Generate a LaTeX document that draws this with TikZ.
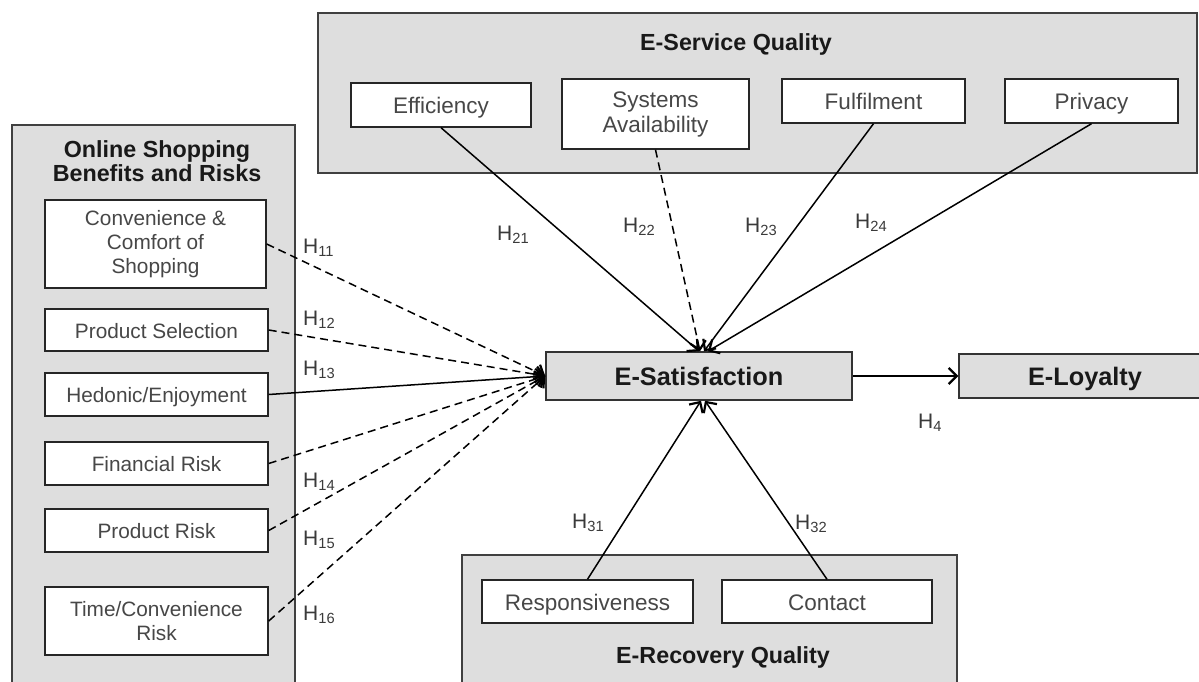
\documentclass[tikz,border=0pt]{standalone}
\usepackage{fontspec}
\setmainfont{Liberation Sans}
\usetikzlibrary{arrows.meta}
\definecolor{panelgray}{HTML}{DEDEDE}
\definecolor{boxtext}{HTML}{474747}
\definecolor{labtext}{HTML}{3A3A3A}
\newcommand{\hyp}[1]{H\textsubscript{#1}}
\begin{document}
\begin{tikzpicture}[x=1pt,y=-1pt,
  panel/.style={draw=black!75, line width=1.6pt, fill=panelgray, inner sep=0pt},
  inbox/.style={draw=black!85, line width=1.4pt, fill=white, align=center, text=boxtext, inner sep=0pt},
  topfont/.style={font=\fontsize{22.5}{25}\selectfont},
  leftfont/.style={font=\fontsize{20.8}{24}\selectfont},
  oneT/.style={text height=17pt, text depth=0pt},
  oneL/.style={text height=16pt, text depth=0pt},
  oneC/.style={text height=19pt, text depth=0pt},
  title/.style={font=\bfseries\fontsize{23.3}{24.5}\selectfont, text=black!90, align=center, inner sep=0pt},
  core/.style={draw=black!80, line width=1.5pt, fill=panelgray, inner sep=0pt, font=\bfseries\fontsize{25.3}{28}\selectfont, text=black!90},
  hlab/.style={font=\fontsize{21}{24}\selectfont, text=labtext, anchor=base west, inner sep=0pt},
  arr/.style={-{Straight Barb[length=8pt,width=16pt,line width=2.2pt]}, line width=1.5pt, black},
  dsh/.style={dash pattern=on 8pt off 5pt}
]
\useasboundingbox (0,0) rectangle (1199,682);
\clip (0,0) rectangle (1199,682);

% panels
\node[panel, minimum width=879pt, minimum height=160pt] (esq) at (757.5,93) {};
\node[title] (esqt) at (736,44) {E-Service Quality};
\node[panel, minimum width=283pt, minimum height=600pt] (osb) at (153.5,425) {};
\node[title] (osbt) at (157,161) {Online Shopping\\Benefits and Risks};
\node[panel, minimum width=495pt, minimum height=160pt] (erq) at (709.5,635) {};
\node[title] (erqt) at (723,657) {E-Recovery Quality};

% E-Service items
\node[inbox, topfont, oneT, minimum width=180pt, minimum height=44pt] (eff) at (441,105) {Efficiency};
\node[inbox, topfont, minimum width=187pt, minimum height=70pt] (sys) at (655.5,114) {Systems\\Availability};
\node[inbox, topfont, oneT, minimum width=183pt, minimum height=44pt] (ful) at (873.5,101) {Fulfilment};
\node[inbox, topfont, oneT, minimum width=173pt, minimum height=44pt] (priv) at (1091.5,101) {Privacy};

% left items
\node[inbox, leftfont, minimum width=221pt, minimum height=88pt] (conv) at (155.5,244) {Convenience \&\\Comfort of\\Shopping};
\node[inbox, leftfont, oneL, minimum width=223pt, minimum height=42pt] (psel) at (156.5,330) {Product Selection};
\node[inbox, leftfont, oneL, minimum width=223pt, minimum height=43pt] (hed) at (156.5,394.5) {Hedonic/Enjoyment};
\node[inbox, leftfont, oneL, minimum width=223pt, minimum height=43pt] (fin) at (156.5,463.5) {Financial Risk};
\node[inbox, leftfont, oneL, minimum width=223pt, minimum height=43pt] (prisk) at (156.5,530.5) {Product Risk};
\node[inbox, leftfont, minimum width=223pt, minimum height=68pt] (tcr) at (156.5,621) {Time/Convenience\\Risk};

% recovery items
\node[inbox, topfont, oneT, minimum width=211pt, minimum height=43pt] (resp) at (587.5,601.5) {Responsiveness};
\node[inbox, topfont, oneT, minimum width=210pt, minimum height=43pt] (cont) at (827,601.5) {Contact};

% core
\node[core, oneC, minimum width=306pt, minimum height=48pt] (esat) at (699,376) {E-Satisfaction};
\node[core, oneC, minimum width=252pt, minimum height=44pt, text width=252pt, align=center] (eloy) at (1085,376) {E-Loyalty};

% connectors from left
\draw[arr, dsh] (conv.east) -- (esat.west);
\draw[arr, dsh] (psel.east) -- (esat.west);
\draw[arr] (hed.east) -- (esat.west);
\draw[arr, dsh] (fin.east) -- (esat.west);
\draw[arr, dsh] (prisk.east) -- (esat.west);
\draw[arr, dsh] (tcr.east) -- (esat.west);

% connectors from top
\draw[arr] (eff.south) -- ([xshift=0pt]esat.north);
\draw[arr, dsh] (sys.south) -- ([xshift=1pt]esat.north);
\draw[arr] (ful.south) -- ([xshift=5pt]esat.north);
\draw[arr] (priv.south) -- ([xshift=9pt]esat.north);

% connectors from bottom
\draw[arr] (resp.north) -- ([xshift=2pt]esat.south);
\draw[arr] (cont.north) -- ([xshift=6pt]esat.south);

% to loyalty
\draw[arr] (esat.east) -- (eloy.west);

% labels
\node[hlab] (h11) at (303,253) {\hyp{11}};
\node[hlab] (h12) at (303,325) {\hyp{12}};
\node[hlab] (h13) at (303,375) {\hyp{13}};
\node[hlab] (h14) at (303,487) {\hyp{14}};
\node[hlab] (h15) at (303,545) {\hyp{15}};
\node[hlab] (h16) at (303,620) {\hyp{16}};
\node[hlab] (h21) at (497,240) {\hyp{21}};
\node[hlab] (h22) at (623,232) {\hyp{22}};
\node[hlab] (h23) at (745,232) {\hyp{23}};
\node[hlab] (h24) at (855,228) {\hyp{24}};
\node[hlab] (h31) at (572,528) {\hyp{31}};
\node[hlab] (h32) at (795,529) {\hyp{32}};
\node[hlab] (h4) at (918,428) {\hyp{4}};
\end{tikzpicture}
\end{document}
